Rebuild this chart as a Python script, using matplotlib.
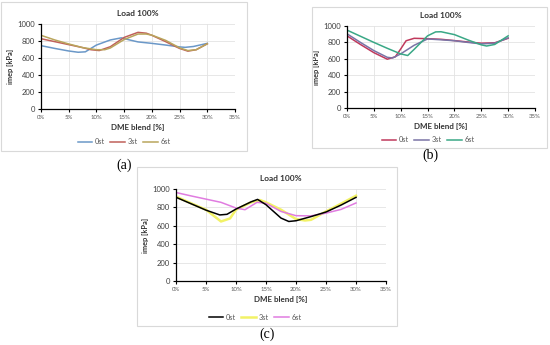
import numpy as np
import matplotlib
matplotlib.use("Agg")
import matplotlib.pyplot as plt
from matplotlib.patches import Rectangle

plt.rcParams['font.family'] = ['Lato', 'DejaVu Sans']

# ---- data (DME blend [%] -> imep [kPa]) ----
# panel (a)
a0_x = [0, 2.5, 5, 6.7, 8, 10, 12.5, 14.5, 16, 17.5, 20, 22.5, 25, 26, 27.5, 30]
a0_y = [748, 715, 685, 670, 675, 755, 815, 840, 815, 792, 775, 755, 733, 728, 738, 775]
a3_x = [0, 2.5, 5, 7.5, 9, 10.5, 12.5, 15, 17.5, 19, 20, 22.5, 25, 26.5, 28, 30]
a3_y = [830, 795, 760, 725, 700, 690, 735, 845, 905, 895, 870, 795, 715, 683, 700, 770]
a6_x = [0, 2.5, 5, 7.5, 10, 11.5, 12.5, 15, 17.5, 19, 20, 22.5, 25, 26.5, 28, 30]
a6_y = [870, 815, 768, 725, 700, 700, 720, 820, 885, 885, 872, 810, 722, 690, 700, 770]

# panel (b)
b0_x = [0, 2.5, 5, 7.5, 9, 10, 11, 12.5, 15, 17.5, 20, 22.5, 25, 27.5, 30]
b0_y = [880, 775, 675, 595, 625, 720, 820, 850, 845, 838, 822, 805, 790, 795, 850]
b3_x = [0, 2.5, 5, 7.5, 8.5, 10, 12.5, 15, 17.5, 20, 22.5, 25, 27.5, 30]
b3_y = [905, 800, 700, 618, 610, 660, 765, 842, 832, 820, 800, 782, 790, 855]
b6_x = [0, 2.5, 5, 7.5, 10, 11.3, 12.5, 15, 16.5, 17.5, 20, 22.5, 25, 26, 27.5, 30]
b6_y = [950, 875, 800, 728, 660, 640, 715, 880, 928, 930, 895, 830, 770, 756, 775, 880]

# panel (c)
c0_x = [0, 2.5, 5, 7.3, 8.5, 10, 12.5, 13.6, 15, 17.5, 18.8, 20, 22.5, 25, 27.5, 30]
c0_y = [910, 840, 770, 718, 725, 782, 860, 887, 829, 684, 647, 655, 700, 750, 825, 909]
c3_x = [0, 2.5, 5, 7.5, 9, 10, 12.5, 14, 15, 17.5, 20, 21.5, 22.5, 25, 27.5, 30]
c3_y = [918, 845, 775, 647, 680, 775, 855, 880, 855, 775, 673, 658, 665, 756, 840, 927]
c6_x = [0, 2.5, 5, 7.5, 10, 11.5, 13.5, 15, 17.5, 20, 22.5, 25, 27.5, 30]
c6_y = [962, 925, 890, 855, 793, 775, 855, 845, 756, 710, 708, 738, 778, 848]

series_labels = ['0st', '3st', '6st']
x_ticks = [0, 5, 10, 15, 20, 25, 30, 35]
y_ticks = [0, 200, 400, 600, 800, 1000]

W, H = 550, 345
fig = plt.figure(figsize=(W / 100, H / 100), dpi=100)


def px_axes(left, top, right, bottom):
    return fig.add_axes([left / W, 1 - bottom / H, (right - left) / W, (bottom - top) / H])


def frame(left, top, right, bottom):
    fig.patches.append(Rectangle((left / W, 1 - bottom / H), (right - left) / W, (bottom - top) / H,
                                 transform=fig.transFigure, fill=False, edgecolor='#d9d9d9', lw=0.8))


def style(ax):
    ax.set_xlim(0, 35)
    ax.set_ylim(0, 1000)
    ax.set_xticks(x_ticks)
    ax.set_xticklabels([f'{t}%' for t in x_ticks])
    ax.set_yticks(y_ticks)
    ax.grid(True, color='#e3e3e3', lw=0.6)
    ax.set_axisbelow(True)
    for s in ['top', 'right']:
        ax.spines[s].set_visible(False)
    for s in ['left', 'bottom']:
        ax.spines[s].set_color('black')
        ax.spines[s].set_linewidth(0.9)
    ax.tick_params(axis='x', labelsize=4.3, colors='black', labelcolor='#595959', length=2.5, width=0.8, pad=2)
    ax.tick_params(axis='y', labelsize=5.5, colors='black', labelcolor='#404040', length=2.5, width=0.8, pad=2)
    ax.set_title('Load 100%', fontsize=6, fontweight='bold', color='#333333', pad=6)
    ax.set_xlabel('DME blend [%]', fontsize=5.8, fontweight='bold', color='#333333', labelpad=3)
    ax.set_ylabel('imep [kPa]', fontsize=5.3, fontweight='bold', color='#333333', labelpad=2)


def legend(ax, cx, cy):
    ax.legend(loc='center', bbox_to_anchor=(cx / W, 1 - cy / H), bbox_transform=fig.transFigure,
              ncol=3, frameon=False, fontsize=5.3, handlelength=2.0, handletextpad=0.3,
              columnspacing=0.8, labelcolor='#595959')


# (a)
frame(1, 2, 247, 151)
ax = px_axes(41, 24.3, 235, 109)
style(ax)
ax.plot(a0_x, a0_y, color='#6b98c8', lw=1.1, label=series_labels[0])
ax.plot(a3_x, a3_y, color='#c0605a', lw=1.1, label=series_labels[1])
ax.plot(a6_x, a6_y, color='#b9a55c', lw=1.1, label=series_labels[2])
legend(ax, 124, 142)
fig.text(124 / W, 1 - 165 / H, '(a)', ha='center', va='center', fontsize=10, family='Liberation Serif')

# (b)
frame(312, 7, 547, 148)
ax = px_axes(347, 26, 535, 108)
style(ax)
ax.plot(b0_x, b0_y, color='#c0395c', lw=1.1, label=series_labels[0])
ax.plot(b3_x, b3_y, color='#7a74a6', lw=1.1, label=series_labels[1])
ax.plot(b6_x, b6_y, color='#3aa886', lw=1.1, label=series_labels[2])
legend(ax, 428, 140)
fig.text(430 / W, 1 - 155 / H, '(b)', ha='center', va='center', fontsize=10, family='Liberation Serif')

# (c)
frame(137, 167, 397, 326)
ax = px_axes(176, 189, 386, 281)
style(ax)
ax.plot(c0_x, c0_y, color='black', lw=1.1, label=series_labels[0], zorder=3)
ax.plot(c3_x, c3_y, color='#f2f266', lw=1.8, label=series_labels[1], zorder=2)
ax.plot(c6_x, c6_y, color='#e07ce0', lw=1.1, label=series_labels[2], zorder=2)
legend(ax, 255, 317)
fig.text(267 / W, 1 - 334 / H, '(c)', ha='center', va='center', fontsize=10, family='Liberation Serif')

fig.savefig('out.png', dpi=100, facecolor='white')
